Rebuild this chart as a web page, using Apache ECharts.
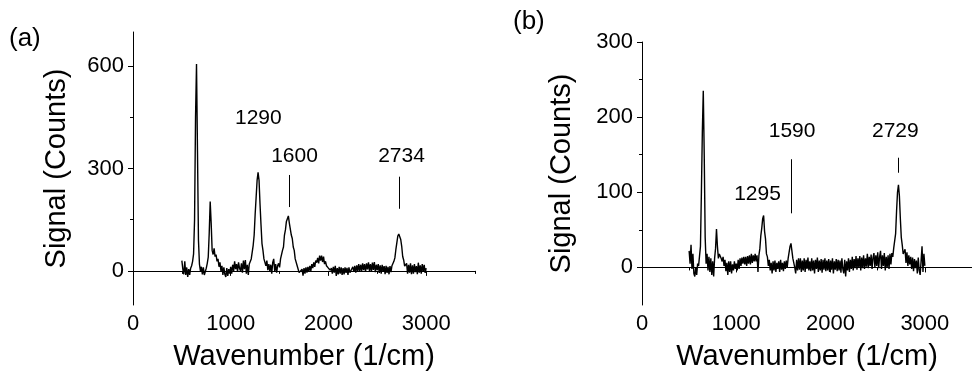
<!DOCTYPE html>
<html>
<head>
<meta charset="utf-8">
<script src="https://cdn.jsdelivr.net/npm/echarts@6/dist/echarts.min.js"></script>
<style>
html,body{margin:0;padding:0;background:#fff;}
#chart{width:972px;height:376px;}
</style>
</head>
<body>
<div id="chart"></div>
<script>
// Wavenumber grid (1/cm): first point and spacing of the sampled spectra
const waveStart = 500;
const waveStep = 10;

// Panel (a) signal (counts), 500..3000 1/cm, step 10
const signalA = [
  30, 5, -10, 28, -12, 10, -18, 5, -12, 8,
  15, 28, 50, 150, 450, 606, 350, 90, 20, 0,
  12, -10, 10, -12, -2, 8, 22, 40, 110, 203,
  140, 60, 48, 66, 42, 48, 28, 35, 12, 25,
  0, 15, -12, 10, -10, -18, 8, -15, 5, -8,
  12, -8, 18, 0, 28, 5, 20, -2, 25, 8,
  0, 22, -5, 30, 5, 32, -8, 18, -12, 20,
  18, 35, 40, 75, 105, 165, 215, 265, 289, 265,
  195, 135, 80, 60, 35, 38, 15, 30, 2, 20,
  0, 18, -8, 25, 35, 0, 20, -5, 15, 22,
  10, 35, 35, 60, 70, 105, 120, 145, 148, 161,
  140, 135, 105, 95, 70, 60, 35, 35, 15, 18,
  -5, 0, -10, 5, -14, 8, -8, 10, -5, 12,
  -2, 15, 0, 20, 8, 25, 12, 30, 24, 38,
  22, 45, 30, 45, 26, 42, 20, 28, 15, 20,
  8, 12, 2, 8, -8, 12, -5, 15, -15, 8,
  -10, 12, -8, 10, -12, 8, -10, 10, -6, 9,
  -12, 10, -5, 0, -10, 12, -3, 15, -5, 16,
  0, 20, -2, 18, 0, 22, 2, 20, -2, 22,
  4, 25, 0, 20, -2, 24, 3, 26, -4, 18,
  2, 20, -6, 16, -8, 18, -2, 14, -10, 15,
  -6, 12, -10, 14, -4, 15, 10, 28, 38, 62,
  82, 102, 108, 112, 92, 72, 42, 32, 14, 12,
  22, -8, 18, -5, 22, -10, 16, -8, 20, -4,
  14, -10, 24, -5, 16, -8, 20, -2, 18, -6,
  8
];

// Panel (b) signal (counts), 500..3000 1/cm, step 10
const signalB = [
  22, 5, 30, -2, 18, -8, -12, 0, -10, 5,
  2, 15, 28, 100, 180, 235, 150, 40, 5, 18,
  -4, 14, -6, 12, -10, 8, -12, 12, 25, 51,
  28, 12, 18, 15, 12, 8, 14, 2, 10, -5,
  6, -10, 8, -6, 8, -8, 4, -4, 8, -2,
  5, -4, 10, -2, 12, 2, 13, 5, 14, 4,
  14, 2, 15, 5, 16, 4, 18, 6, 16, 8,
  18, 8, 16, -6, 16, 25, 42, 52, 65, 69,
  48, 38, 18, 14, 2, 10, -4, 6, -8, 8,
  -4, 9, -6, 6, -2, 8, -6, 10, -3, 6,
  -5, 8, -2, 9, 0, 12, 12, 28, 32, 30,
  12, 10, 0, -8, 10, -4, 12, -3, 12, -6,
  9, -4, 12, -6, 10, -2, 13, -4, 8, -5,
  12, -4, 9, -8, 10, -2, 13, -6, 9, -4,
  11, -7, 10, -3, 12, -5, 9, -4, 11, -6,
  9, -3, 12, -8, 8, -3, 11, -5, 10, -4,
  9, -7, 12, -2, -8, 10, -12, 8, -4, 12,
  -6, 10, -2, 14, -4, 11, -1, 15, -3, 12,
  0, 15, -4, 13, -1, 16, -2, 12, 1, 18,
  -1, 14, 2, 17, -2, 13, 19, 0, 16, 2,
  20, -1, 14, 22, -2, 16, 2, 19, -4, 14,
  0, 16, -2, 18, 4, 19, 14, 26, 24, 45,
  75, 100, 110, 95, 65, 40, 30, 18, 18, 24,
  6, 20, 2, 16, 4, 14, -2, 13, -5, 11,
  -1, 9, -8, 13, -4, -10, 8, 28, -6, 18,
  2
];

// Axis tick values
const xMajorTicks = [0, 1000, 2000, 3000];
const xMinorTicks = [500, 1500, 2500, 3500];
const yMajorTicksA = [0, 300, 600];
const yMinorTicksA = [150, 450];
const yMajorTicksB = [0, 100, 200, 300];
const yMinorTicksB = [50, 150, 250];

// Peak annotations: label text, anchor (wavenumber, counts)
const annotLabelsA = ['1290', '1600', '2734'];
const annotXA = [1283, 1653, 2748];
const annotYA = [447, 336, 336];
const markerXA = [1600, 2723];
const markerFromA = [187, 182];
const markerToA = [281, 276];

const annotLabelsB = ['1295', '1590', '2729'];
const annotXB = [1225, 1592, 2687];
const annotYB = [97, 181, 181];
const markerXB = [1586, 2721];
const markerFromB = [72, 126];
const markerToB = [144, 146];

const FONT = '"Liberation Sans", Arial, sans-serif';

function toPairs(vals) {
  return vals.map((v, i) => [waveStart + i * waveStep, v]);
}
function annots(labels, xs, ys) {
  return labels.map((l, i) => ({ name: l, value: [xs[i], ys[i]] }));
}
function markers(xs, from, to) {
  return xs.map((x, i) => [{ coord: [x, from[i]] }, { coord: [x, to[i]] }]);
}
const plainNum = v => String(v);

const axisLine = { show: true, lineStyle: { color: '#000', width: 1 } };

function xAxes(grid) {
  return [
    {
      type: 'value', gridIndex: grid, min: 0, max: 3500,
      name: 'Wavenumber (1/cm)', nameLocation: 'middle', nameGap: 37,
      nameTextStyle: { fontFamily: FONT, fontSize: 29, color: '#000' },
      axisLine: axisLine,
      axisTick: { show: true, length: 5, inside: false, customValues: xMajorTicks, lineStyle: { color: '#000' } },
      axisLabel: { show: true, customValues: xMajorTicks, formatter: plainNum, margin: 8, fontFamily: FONT, fontSize: 22, color: '#000' },
      splitLine: { show: false }
    },
    {
      type: 'value', gridIndex: grid, min: 0, max: 3500, position: 'bottom',
      axisLine: { show: false },
      axisTick: { show: true, length: 3, customValues: xMinorTicks, lineStyle: { color: '#000' } },
      axisLabel: { show: false },
      splitLine: { show: false }
    }
  ];
}
function yAxes(grid, min, max, major, minor, gap) {
  return [
    {
      type: 'value', gridIndex: grid, min: min, max: max,
      name: 'Signal (Counts)', nameLocation: 'middle', nameGap: gap,
      nameTextStyle: { fontFamily: FONT, fontSize: 29, color: '#000' },
      axisLine: axisLine,
      axisTick: { show: true, length: 5, customValues: major, lineStyle: { color: '#000' } },
      axisLabel: { show: true, customValues: major, formatter: plainNum, margin: 9, fontFamily: FONT, fontSize: 22, color: '#000' },
      splitLine: { show: false }
    },
    {
      type: 'value', gridIndex: grid, min: min, max: max, position: 'left',
      axisLine: { show: false },
      axisTick: { show: true, length: 3, customValues: minor, lineStyle: { color: '#000' } },
      axisLabel: { show: false },
      splitLine: { show: false }
    }
  ];
}

function spectrumSeries(xi, yi, vals, mx, mf, mt) {
  return {
    type: 'line', xAxisIndex: xi, yAxisIndex: yi,
    data: toPairs(vals), showSymbol: false, symbol: 'none',
    lineStyle: { color: '#000', width: 1.4 }, animation: false, silent: true,
    markLine: {
      symbol: 'none', silent: true, animation: false,
      label: { show: false },
      lineStyle: { color: '#000', width: 1, type: 'solid' },
      data: markers(mx, mf, mt)
    }
  };
}
function annotSeries(xi, yi, labels, xs, ys) {
  return {
    type: 'scatter', xAxisIndex: xi, yAxisIndex: yi, symbolSize: 0,
    data: annots(labels, xs, ys), silent: true, animation: false,
    itemStyle: { opacity: 1 },
    label: { show: true, position: 'inside', formatter: '{b}', fontFamily: FONT, fontSize: 21, color: '#000', opacity: 1 }
  };
}

const chart = echarts.init(document.getElementById('chart'), null, { renderer: 'canvas' });
chart.setOption({
  backgroundColor: '#fff',
  animation: false,
  title: [
    { text: '(a)', left: 9, top: 26, padding: 0, textStyle: { fontFamily: FONT, fontSize: 26, fontWeight: 'normal', color: '#000' } },
    { text: '(b)', left: 513, top: 9, padding: 0, textStyle: { fontFamily: FONT, fontSize: 26, fontWeight: 'normal', color: '#000' } }
  ],
  grid: [
    { left: 133, top: 32, width: 342, height: 275 },
    { left: 642, top: 42, width: 337, height: 271 }
  ],
  xAxis: xAxes(0).concat(xAxes(1)),
  yAxis: yAxes(0, -100, 700, yMajorTicksA, yMinorTicksA, 62).concat(yAxes(1, -50, 300, yMajorTicksB, yMinorTicksB, 66)),
  series: [
    spectrumSeries(0, 0, signalA, markerXA, markerFromA, markerToA),
    annotSeries(0, 0, annotLabelsA, annotXA, annotYA),
    spectrumSeries(2, 2, signalB, markerXB, markerFromB, markerToB),
    annotSeries(2, 2, annotLabelsB, annotXB, annotYB)
  ]
});
</script>
</body>
</html>
